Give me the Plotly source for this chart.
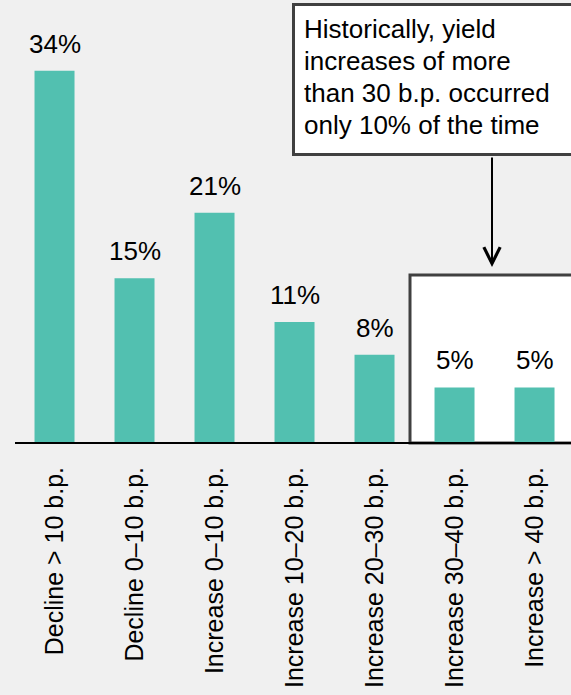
import plotly.graph_objects as go

categories = ["Decline > 10 b.p.", "Decline 0–10 b.p.", "Increase 0–10 b.p.",
              "Increase 10–20 b.p.", "Increase 20–30 b.p.", "Increase 30–40 b.p.",
              "Increase > 40 b.p."]
values = [34, 15, 21, 11, 8, 5, 5]
labels = ["34%", "15%", "21%", "11%", "8%", "5%", "5%"]
note_lines = ["Historically, yield", "increases of more",
              "than 30 b.p. occurred", "only 10% of the time"]

FONT = "Liberation Sans, Arial, sans-serif"
FS = 26
BAR = "#52c0b0"
BORDER = "#404040"

W, H = 571, 695
L, B, T = 15, 253, 0
pw, ph = W - L, H - B - T

def px(x):
    return (x - L) / pw

def py(y):
    return (H - B - y) / ph

fig = go.Figure()
fig.add_trace(go.Bar(x=categories, y=values, marker=dict(color=BAR, line=dict(width=0)),
                     hoverinfo="skip"))

for c, v, t in zip(categories, values, labels):
    fig.add_annotation(x=c, y=v, xref="x", yref="y", text=t, showarrow=False,
                       yanchor="bottom", yshift=10,
                       font=dict(family=FONT, size=FS, color="black"))

# highlight box around last two bars
fig.add_shape(type="rect", xref="paper", yref="paper",
              x0=px(410), x1=1.05, y0=py(443), y1=py(275),
              fillcolor="white", line=dict(color=BORDER, width=3), layer="below")

# note box
fig.add_shape(type="rect", xref="paper", yref="paper",
              x0=px(293.5), x1=1.05, y0=py(154.5), y1=py(4.5),
              fillcolor="white", line=dict(color=BORDER, width=3), layer="above")
for i, line in enumerate(note_lines):
    fig.add_annotation(xref="paper", yref="paper", x=px(302), y=py(28.7 + 32 * i),
                       xanchor="left", yanchor="middle", align="left", text=line,
                       showarrow=False, font=dict(family=FONT, size=FS, color="black"))

# arrow
fig.add_annotation(xref="paper", yref="paper", x=px(492), y=py(267), ax=0, ay=-111,
                   text="", showarrow=True, arrowhead=5, arrowwidth=2, arrowsize=1.6,
                   arrowcolor="black", standoff=0)

fig.update_layout(
    width=W, height=H, autosize=False,
    margin=dict(l=L, r=0, t=T, b=B, pad=0, autoexpand=False),
    paper_bgcolor="#f0f0f0", plot_bgcolor="rgba(0,0,0,0)",
    bargap=0.5, showlegend=False,
    font=dict(family=FONT, size=FS, color="black"),
)
fig.update_xaxes(range=[-0.494, -0.494 + pw / 80], showline=True, linecolor="black",
                 linewidth=2, ticks="", tickangle=-90, showgrid=False, zeroline=False,
                 tickfont=dict(family=FONT, size=25, color="black"), ticklabelstandoff=13,
                 automargin=False, fixedrange=True)
fig.update_yaxes(range=[0, ph / 10.92], visible=False, showgrid=False, zeroline=False,
                 automargin=False, fixedrange=True)

fig.write_html("out.html", config={"displayModeBar": False})
